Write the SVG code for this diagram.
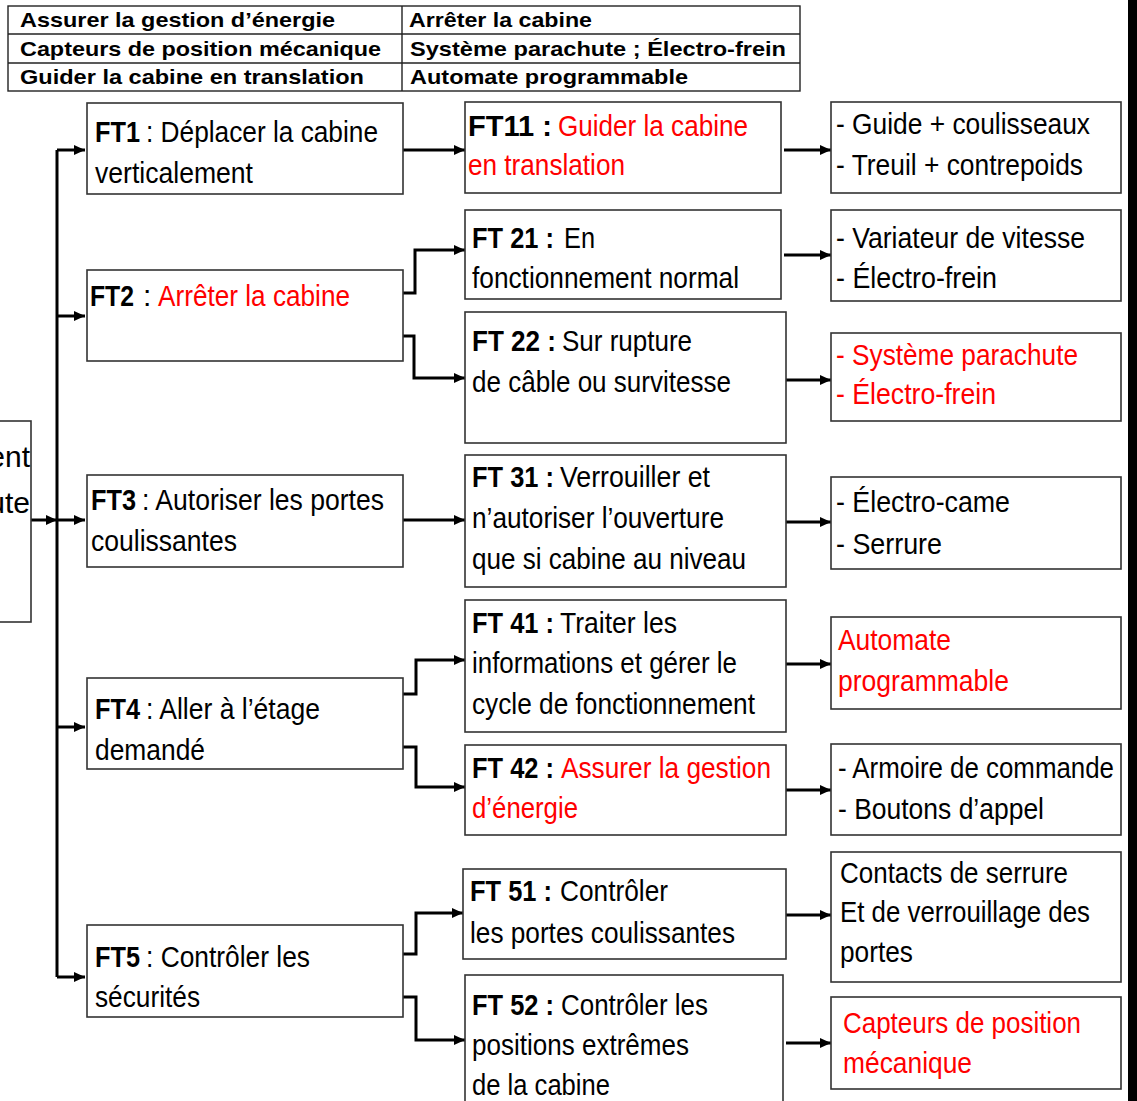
<svg xmlns="http://www.w3.org/2000/svg" width="1137" height="1101" viewBox="0 0 1137 1101">
<defs>
<style>
.bx{fill:#fff;stroke:#333;stroke-width:1.6}
.t{font-family:"Liberation Sans",Arial,sans-serif;font-size:30px;fill:#000}
.tb{font-family:"Liberation Sans",Arial,sans-serif;font-size:21px;font-weight:bold;fill:#000}
.b{font-weight:bold}
.r{fill:#ff0000}
.c{fill:none;stroke:#000;stroke-width:3;marker-end:url(#ah)}
.cn{fill:none;stroke:#000;stroke-width:3}
</style>
<marker id="ah" markerUnits="userSpaceOnUse" markerWidth="11" markerHeight="10" refX="11" refY="5" orient="auto">
<path d="M0,0 L11,5 L0,10 z" fill="#000"/>
</marker>
</defs>
<rect width="1137" height="1101" fill="#fff"/>
<rect x="1128" y="0" width="9" height="1101" fill="#000"/>

<g id="table">
<rect x="8" y="6" width="792" height="85" fill="#fff" stroke="#222" stroke-width="1.4"/>
<line x1="8" y1="34" x2="800" y2="34" stroke="#222" stroke-width="1.4"/>
<line x1="8" y1="63" x2="800" y2="63" stroke="#222" stroke-width="1.4"/>
<line x1="402" y1="6" x2="402" y2="91" stroke="#222" stroke-width="1.4"/>
<text class="tb" x="20" y="27" textLength="315" lengthAdjust="spacingAndGlyphs">Assurer la gestion d’énergie</text>
<text class="tb" x="20" y="56" textLength="361" lengthAdjust="spacingAndGlyphs">Capteurs de position mécanique</text>
<text class="tb" x="20" y="84" textLength="344" lengthAdjust="spacingAndGlyphs">Guider la cabine en translation</text>
<text class="tb" x="409" y="27" textLength="183" lengthAdjust="spacingAndGlyphs">Arrêter la cabine</text>
<text class="tb" x="410" y="56" textLength="376" lengthAdjust="spacingAndGlyphs">Système parachute ; Électro-frein</text>
<text class="tb" x="410" y="84" textLength="278" lengthAdjust="spacingAndGlyphs">Automate programmable</text>
</g>

<g id="connectors">
<line class="cn" x1="57" y1="150" x2="57" y2="977"/>
<line class="c" x1="31" y1="520" x2="57" y2="520"/>
<line class="c" x1="57" y1="150" x2="85" y2="150"/>
<line class="c" x1="57" y1="316" x2="85" y2="316"/>
<line class="c" x1="57" y1="520" x2="85" y2="520"/>
<line class="c" x1="57" y1="727" x2="85" y2="727"/>
<line class="c" x1="57" y1="977" x2="85" y2="977"/>

<line class="c" x1="403" y1="150" x2="465" y2="150"/>
<path class="c" d="M403,293 H415 V250 H465"/>
<path class="c" d="M403,336 H414 V378 H465"/>
<line class="c" x1="403" y1="520" x2="465" y2="520"/>
<path class="c" d="M403,694 H416 V660 H465"/>
<path class="c" d="M403,747 H416 V787 H465"/>
<path class="c" d="M403,954 H416 V913 H463"/>
<path class="c" d="M403,997 H416 V1040 H465"/>

<line class="c" x1="784" y1="150" x2="831" y2="150"/>
<line class="c" x1="784" y1="255" x2="831" y2="255"/>
<line class="c" x1="786" y1="380" x2="831" y2="380"/>
<line class="c" x1="786" y1="522" x2="831" y2="522"/>
<line class="c" x1="786" y1="664" x2="831" y2="664"/>
<line class="c" x1="786" y1="790" x2="831" y2="790"/>
<line class="c" x1="786" y1="915" x2="831" y2="915"/>
<line class="c" x1="786" y1="1043" x2="831" y2="1043"/>
</g>

<g id="root">
<rect class="bx" x="-4" y="421" width="35" height="201"/>
<text class="t" x="30" y="467" text-anchor="end">ent</text>
<text class="t" x="30" y="513" text-anchor="end">ute</text>
</g>

<g id="FT1">
<rect class="bx" x="87" y="103" width="316" height="91"/>
<text class="t b" x="95" y="142" textLength="45" lengthAdjust="spacingAndGlyphs">FT1</text>
<text class="t" x="146" y="142" textLength="232" lengthAdjust="spacingAndGlyphs">: Déplacer la cabine</text>
<text class="t" x="95" y="183" textLength="158" lengthAdjust="spacingAndGlyphs">verticalement</text>
</g>
<g id="FT2">
<rect class="bx" x="87" y="270" width="316" height="91"/>
<text class="t b" x="90" y="306" textLength="44" lengthAdjust="spacingAndGlyphs">FT2</text>
<text class="t" x="143" y="306">:</text>
<text class="t r" x="158" y="306" textLength="192" lengthAdjust="spacingAndGlyphs">Arrêter la cabine</text>
</g>
<g id="FT3">
<rect class="bx" x="87" y="475" width="316" height="92"/>
<text class="t b" x="91" y="510" textLength="45" lengthAdjust="spacingAndGlyphs">FT3</text>
<text class="t" x="142" y="510" textLength="242" lengthAdjust="spacingAndGlyphs">: Autoriser les portes</text>
<text class="t" x="91" y="551" textLength="146" lengthAdjust="spacingAndGlyphs">coulissantes</text>
</g>
<g id="FT4">
<rect class="bx" x="87" y="678" width="316" height="91"/>
<text class="t b" x="95" y="719" textLength="45" lengthAdjust="spacingAndGlyphs">FT4</text>
<text class="t" x="146" y="719" textLength="174" lengthAdjust="spacingAndGlyphs">: Aller à l’étage</text>
<text class="t" x="95" y="760" textLength="110" lengthAdjust="spacingAndGlyphs">demandé</text>
</g>
<g id="FT5">
<rect class="bx" x="87" y="925" width="316" height="92"/>
<text class="t b" x="95" y="967" textLength="45" lengthAdjust="spacingAndGlyphs">FT5</text>
<text class="t" x="146" y="967" textLength="164" lengthAdjust="spacingAndGlyphs">: Contrôler les</text>
<text class="t" x="95" y="1007" textLength="105" lengthAdjust="spacingAndGlyphs">sécurités</text>
</g>

<g id="FT11">
<rect class="bx" x="465" y="102" width="316" height="91"/>
<text class="t b" x="468" y="136" textLength="84" lengthAdjust="spacingAndGlyphs">FT11  :</text>
<text class="t r" x="558" y="136" textLength="190" lengthAdjust="spacingAndGlyphs">Guider la cabine</text>
<text class="t r" x="468" y="175" textLength="157" lengthAdjust="spacingAndGlyphs">en translation</text>
</g>
<g id="FT21">
<rect class="bx" x="465" y="210" width="316" height="89"/>
<text class="t b" x="472" y="248" textLength="82" lengthAdjust="spacingAndGlyphs">FT 21 :</text>
<text class="t" x="564" y="248" textLength="31" lengthAdjust="spacingAndGlyphs">En</text>
<text class="t" x="472" y="288" textLength="267" lengthAdjust="spacingAndGlyphs">fonctionnement normal</text>
</g>
<g id="FT22">
<rect class="bx" x="465" y="312" width="321" height="131"/>
<text class="t b" x="472" y="351" textLength="84" lengthAdjust="spacingAndGlyphs">FT 22 :</text>
<text class="t" x="562" y="351" textLength="130" lengthAdjust="spacingAndGlyphs">Sur rupture</text>
<text class="t" x="472" y="392" textLength="259" lengthAdjust="spacingAndGlyphs">de câble ou survitesse</text>
</g>
<g id="FT31">
<rect class="bx" x="465" y="455" width="321" height="132"/>
<text class="t b" x="472" y="487" textLength="82" lengthAdjust="spacingAndGlyphs">FT 31 :</text>
<text class="t" x="560" y="487" textLength="150" lengthAdjust="spacingAndGlyphs">Verrouiller et</text>
<text class="t" x="472" y="528" textLength="252" lengthAdjust="spacingAndGlyphs">n’autoriser l’ouverture</text>
<text class="t" x="472" y="569" textLength="274" lengthAdjust="spacingAndGlyphs">que si cabine au niveau</text>
</g>
<g id="FT41">
<rect class="bx" x="465" y="600" width="321" height="132"/>
<text class="t b" x="472" y="633" textLength="82" lengthAdjust="spacingAndGlyphs">FT 41 :</text>
<text class="t" x="560" y="633" textLength="117" lengthAdjust="spacingAndGlyphs">Traiter les</text>
<text class="t" x="472" y="673" textLength="265" lengthAdjust="spacingAndGlyphs">informations et gérer le</text>
<text class="t" x="472" y="714" textLength="283" lengthAdjust="spacingAndGlyphs">cycle de fonctionnement</text>
</g>
<g id="FT42">
<rect class="bx" x="465" y="745" width="321" height="90"/>
<text class="t b" x="472" y="778" textLength="82" lengthAdjust="spacingAndGlyphs">FT 42 :</text>
<text class="t r" x="561" y="778" textLength="210" lengthAdjust="spacingAndGlyphs">Assurer la gestion</text>
<text class="t r" x="472" y="818" textLength="106" lengthAdjust="spacingAndGlyphs">d’énergie</text>
</g>
<g id="FT51">
<rect class="bx" x="463" y="869" width="323" height="90"/>
<text class="t b" x="470" y="901" textLength="82" lengthAdjust="spacingAndGlyphs">FT 51 :</text>
<text class="t" x="560" y="901" textLength="108" lengthAdjust="spacingAndGlyphs">Contrôler</text>
<text class="t" x="470" y="943" textLength="265" lengthAdjust="spacingAndGlyphs">les portes coulissantes</text>
</g>
<g id="FT52">
<rect class="bx" x="465" y="975" width="318" height="140"/>
<text class="t b" x="472" y="1015" textLength="82" lengthAdjust="spacingAndGlyphs">FT 52 :</text>
<text class="t" x="561" y="1015" textLength="147" lengthAdjust="spacingAndGlyphs">Contrôler les</text>
<text class="t" x="472" y="1055" textLength="217" lengthAdjust="spacingAndGlyphs">positions extrêmes</text>
<text class="t" x="472" y="1095" textLength="138" lengthAdjust="spacingAndGlyphs">de la cabine</text>
</g>

<g id="R1">
<rect class="bx" x="831" y="102" width="290" height="91"/>
<text class="t" x="836" y="134" textLength="254" lengthAdjust="spacingAndGlyphs">- Guide + coulisseaux</text>
<text class="t" x="836" y="175" textLength="247" lengthAdjust="spacingAndGlyphs">- Treuil + contrepoids</text>
</g>
<g id="R2">
<rect class="bx" x="831" y="210" width="290" height="91"/>
<text class="t" x="836" y="248" textLength="249" lengthAdjust="spacingAndGlyphs">- Variateur de vitesse</text>
<text class="t" x="836" y="288" textLength="161" lengthAdjust="spacingAndGlyphs">- Électro-frein</text>
</g>
<g id="R3">
<rect class="bx" x="831" y="333" width="290" height="88"/>
<text class="t r" x="836" y="365" textLength="242" lengthAdjust="spacingAndGlyphs">- Système parachute</text>
<text class="t r" x="836" y="404" textLength="160" lengthAdjust="spacingAndGlyphs">- Électro-frein</text>
</g>
<g id="R4">
<rect class="bx" x="831" y="477" width="290" height="92"/>
<text class="t" x="836" y="512" textLength="174" lengthAdjust="spacingAndGlyphs">- Électro-came</text>
<text class="t" x="836" y="554" textLength="106" lengthAdjust="spacingAndGlyphs">- Serrure</text>
</g>
<g id="R5">
<rect class="bx" x="831" y="617" width="290" height="92"/>
<text class="t r" x="838" y="650" textLength="113" lengthAdjust="spacingAndGlyphs">Automate</text>
<text class="t r" x="838" y="691" textLength="171" lengthAdjust="spacingAndGlyphs">programmable</text>
</g>
<g id="R6">
<rect class="bx" x="831" y="744" width="290" height="91"/>
<text class="t" x="838" y="778" textLength="276" lengthAdjust="spacingAndGlyphs">- Armoire de commande</text>
<text class="t" x="838" y="819" textLength="206" lengthAdjust="spacingAndGlyphs">- Boutons d’appel</text>
</g>
<g id="R7">
<rect class="bx" x="831" y="852" width="290" height="130"/>
<text class="t" x="840" y="883" textLength="228" lengthAdjust="spacingAndGlyphs">Contacts de serrure</text>
<text class="t" x="840" y="922" textLength="250" lengthAdjust="spacingAndGlyphs">Et de verrouillage des</text>
<text class="t" x="840" y="962" textLength="73" lengthAdjust="spacingAndGlyphs">portes</text>
</g>
<g id="R8">
<rect class="bx" x="831" y="997" width="290" height="92"/>
<text class="t r" x="843" y="1033" textLength="238" lengthAdjust="spacingAndGlyphs">Capteurs de position</text>
<text class="t r" x="843" y="1073" textLength="129" lengthAdjust="spacingAndGlyphs">mécanique</text>
</g>
</svg>
